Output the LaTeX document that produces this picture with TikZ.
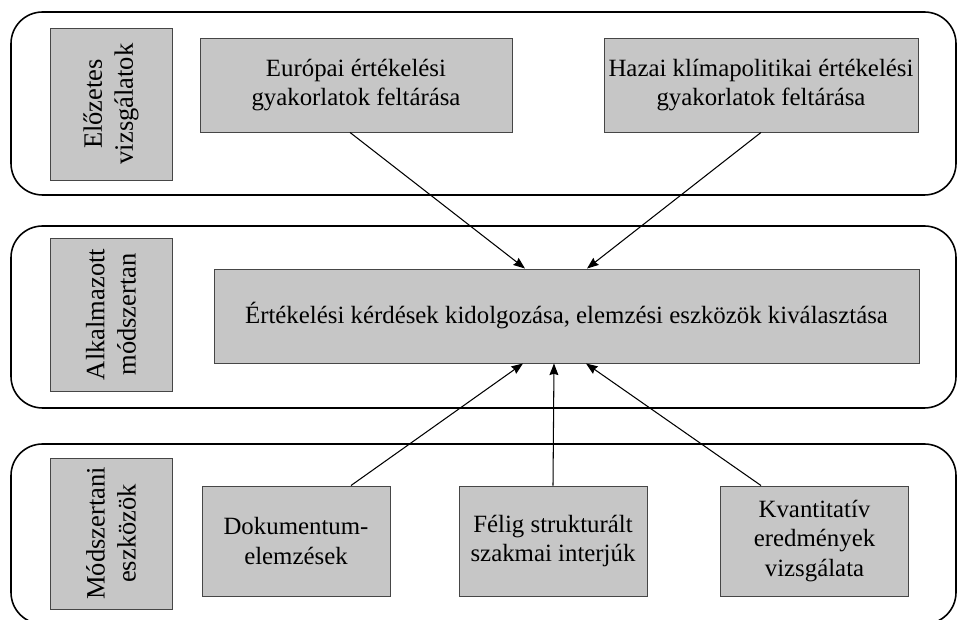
\documentclass[tikz,border=0pt]{standalone}
\usepackage{fontspec}
\setmainfont{Liberation Serif}
\usepackage{tikz}
\usetikzlibrary{arrows.meta,positioning,calc}
\definecolor{boxgray}{RGB}{198,198,198}
\definecolor{boxedge}{RGB}{70,70,70}
\def\pxu{0.475pt}
\tikzstyle{band}=[draw=black, line width=0.75pt, rounded corners=15pt, inner sep=0pt]
\tikzstyle{gray box}=[draw=boxedge, fill=boxgray, line width=0.45pt, inner sep=0pt, align=center, font=\fontsize{11.8}{14}\selectfont]
\tikzstyle{side box}=[gray box, rotate=90, minimum height=122*\pxu, font=\fontsize{12.6}{14.8}\selectfont]
\tikzstyle{flow}=[-{Stealth[length=5.5pt,width=4.2pt,inset=0.6pt]}, line width=0.5pt, black]

\begin{document}
\begin{tikzpicture}[x=\pxu,y=-\pxu]
\useasboundingbox (0,0) rectangle (958,620);

    % the three bands
    \foreach \name/\y/\h in {1/103.5/183,2/317/182,3/534/180}
        \node[band, minimum width=945*\pxu, minimum height=\h*\pxu] (band-\name) at (483.5,\y) {};

    % band titles
    \foreach \name/\y/\h/\txt in {1/104/152/{Előzetes\\vizsgálatok},2/314.5/153/{Alkalmazott\\módszertan},3/533.5/151/{Módszertani\\eszközök}}
        \node[side box, minimum width=\h*\pxu] (side-\name) at (111,\y) {\txt};

    \node[gray box, minimum width=312*\pxu, minimum height=94*\pxu] (eu) at (356,85) {Európai értékelési\\gyakorlatok feltárása};
    \node[gray box, minimum width=314*\pxu, minimum height=94*\pxu] (hu) at (761,85) {Hazai klímapolitikai értékelési\\gyakorlatok feltárása};

    \node[gray box, minimum width=705*\pxu, minimum height=94*\pxu] (main) at (566.5,316) {Értékelési kérdések kidolgozása, elemzési eszközök kiválasztása};

    \foreach \name/\x/\txt in {dok/296/{Dokumentum-\\elemzések},fel/553/{Félig strukturált\\szakmai interjúk},kva/814.5/{Kvantitatív\\eredmények\\vizsgálata}}
        \node[gray box, minimum width=188*\pxu, minimum height=110*\pxu] (\name) at (\x,541) {\txt};

    \path ($(eu.south)+(-6,0)$) edge[flow] ($(main.north)+(-41.5,0)$);
    \path (hu.south) edge[flow] ($(main.north)+(20.5,0)$);

    \path ($(dok.north)+(55,0)$) edge[flow] ($(main.south)+(-43.5,0)$);
    \path (fel.north) edge[flow] ($(main.south)+(-12.5,0)$);
    \path ($(kva.north)+(-53.5,0)$) edge[flow] ($(main.south)+(19.5,0)$);

\end{tikzpicture}
\end{document}
